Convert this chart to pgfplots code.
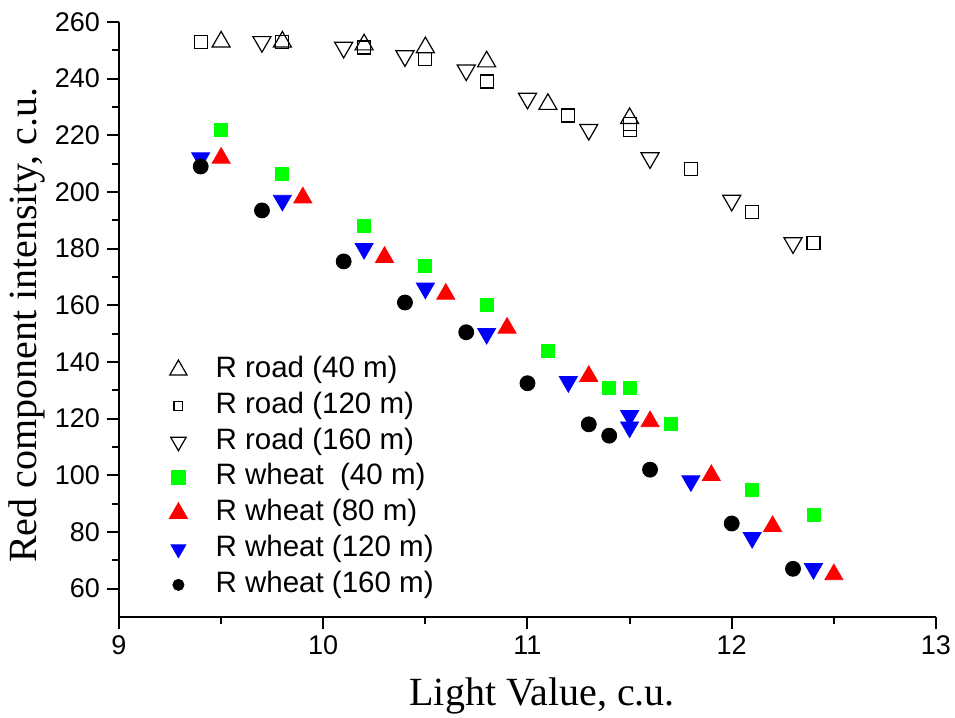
\documentclass[border=0pt]{standalone}
\usepackage{fontspec}
\setmainfont{Liberation Serif}
\setsansfont{Liberation Sans}
\usepackage{pgfplots}
\pgfplotsset{compat=1.18}
\definecolor{cGreen}{RGB}{0,255,0}
\definecolor{cRed}{RGB}{255,0,0}
\definecolor{cBlue}{RGB}{0,0,255}

\begin{document}
\begin{tikzpicture}
\begin{axis}[
  name=ax,
  scale only axis,
  width=408.5pt, height=297.5pt,
  xmin=9, xmax=13, ymin=50, ymax=260,
  axis x line=bottom, axis y line=left,
  axis line style={-, line width=1.1pt},
  xtick={9,10,11,12,13}, minor xtick={9.5,10.5,11.5,12.5},
  ytick={60,80,...,260}, minor ytick={70,90,...,250},
  tick align=outside,
  major tick length=6pt, minor tick length=3.5pt,
  every tick/.style={black, line width=1pt},
  ticklabel style={font=\sffamily\fontsize{13.5}{15}\selectfont},
  /pgf/number format/assume math mode=true,
  xlabel={Light Value, c.u.},
  ylabel={Red component intensity, c.u.},
  xlabel style={font=\fontsize{20}{24}\selectfont, at={(axis description cs:0.518,-0.133)}, anchor=center},
  ylabel style={font=\fontsize{20}{24}\selectfont, at={(axis description cs:-0.1126,0.49)}, anchor=center},
  clip=false,
  legend cell align=left,
  legend style={draw=none, fill=none, inner sep=0pt,
    at={(axis description cs:0.061,0.440)}, anchor=north west,
    font=\sffamily\fontsize{14.75}{17}\selectfont,
    nodes={inner sep=0pt, text height=11pt, text depth=3.5pt},
    row sep=3.4pt,
    /tikz/every odd column/.append style={column sep=14pt}},
]
% road, 40 m
\addplot[only marks, mark=triangle, mark size=5.2pt, mark options={black, fill=white, line width=0.6pt},
  legend image post style={mark size=5pt}]
  coordinates {
    (9.5,253) (9.8,253) (10.2,252) (10.5,251) (10.8,246) (11.1,231) (11.5,226)
  };
\addlegendentry{R road (40 m)}

% road, 120 m
\addplot[only marks, mark=square, mark size=3.25pt, mark options={black, fill=white, line width=0.6pt},
  legend image post style={mark size=2.2pt}]
  coordinates {
    (9.4,253) (9.8,253) (10.2,251) (10.5,247) (10.8,239) (11.2,227)
    (11.5,224) (11.5,222) (11.8,208) (12.1,193) (12.4,182)
  };
\addlegendentry{R road (120 m)}

% road, 160 m
\addplot[only marks, mark=triangle, mark size=5.2pt, mark options={black, fill=white, line width=0.6pt, rotate=180},
  legend image post style={mark size=4.5pt}]
  coordinates {
    (9.7,253) (10.1,251) (10.4,248) (10.7,243) (11.0,233) (11.3,222)
    (11.6,212) (12.0,197) (12.3,182)
  };
\addlegendentry{R road (160 m)}

% wheat, 40 m
\addplot[only marks, mark=square*, mark size=3.25pt, mark options={draw=cGreen, fill=cGreen},
  legend image post style={mark size=3.4pt}]
  coordinates {
    (9.5,222) (9.8,206.5) (10.2,188) (10.5,174) (10.8,160) (11.1,144)
    (11.4,131) (11.5,131) (11.7,118) (12.1,95) (12.4,86)
  };
\addlegendentry{R wheat~ (40 m)}

% wheat, 80 m
\addplot[only marks, mark=triangle*, mark size=5.2pt, mark options={draw=cRed, fill=cRed},
  legend image post style={mark size=5.3pt}]
  coordinates {
    (9.5,212) (9.9,198) (10.3,177) (10.6,164) (10.9,152) (11.3,135)
    (11.6,119) (11.9,100) (12.2,82) (12.5,65)
  };
\addlegendentry{R wheat (80 m)}

% wheat, 120 m
\addplot[only marks, mark=triangle*, mark size=5.2pt, mark options={draw=cBlue, fill=cBlue, rotate=180},
  legend image post style={mark size=4.3pt}]
  coordinates {
    (9.4,212) (9.8,197) (10.2,180) (10.5,166) (10.8,150) (11.2,133)
    (11.5,121) (11.5,117) (11.8,98) (12.1,78) (12.4,67)
  };
\addlegendentry{R wheat (120 m)}

% wheat, 160 m
\addplot[only marks, mark=*, mark size=3.75pt, mark options={draw=black, fill=black},
  legend image post style={mark size=2.8pt}]
  coordinates {
    (9.4,209) (9.7,193.5) (10.1,175.5) (10.4,161) (10.7,150.5) (11.0,132.5)
    (11.3,118) (11.4,114) (11.6,102) (12.0,83) (12.3,67)
  };
\addlegendentry{R wheat (160 m)}
\end{axis}
\pgfresetboundingbox
\path (ax.south west) ++(-59.5pt,-50.5pt) rectangle ++(477.5pt,359pt);
\end{tikzpicture}
\end{document}
